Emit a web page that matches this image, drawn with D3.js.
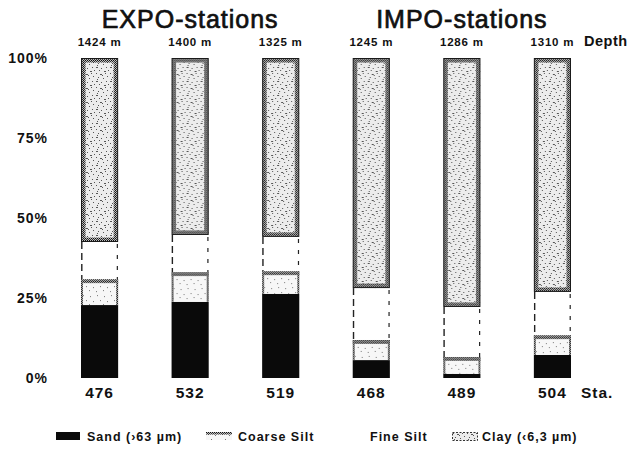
<!DOCTYPE html>
<html>
<head>
<meta charset="utf-8">
<script src="https://cdn.jsdelivr.net/npm/d3@7"></script>
<style>
  html, body { margin: 0; padding: 0; background: #fff; }
  svg text { font-family: "Liberation Sans", Arial, Helvetica, sans-serif; fill: #111; }
</style>
</head>
<body>
<svg id="chart" width="632" height="450"></svg>
<script>
// Grain-size composition of the sediment at each station (percent of sample)
const stations   = ["476", "532", "519", "468", "489", "504"];
const depths     = ["1424 m", "1400 m", "1325 m", "1245 m", "1286 m", "1310 m"];
const sand       = [22.8, 23.8, 26.3, 5.6, 1.3, 7.2];
const coarseSilt = [8.1, 9.3, 7.1, 6.3, 5.3, 6.2];
const fineSilt   = [11.6, 11.6, 10.7, 16.2, 15.6, 13.5];
const clay       = [57.5, 55.3, 55.9, 71.9, 77.8, 73.1];
const yTicks     = [0, 25, 50, 75, 100];
const groupNames = ["EXPO-stations", "IMPO-stations"];
const groupMembers = [["476", "532", "519"], ["468", "489", "504"]];
const fractionKeys   = ["sand", "coarseSilt", "fineSilt", "clay"];
const fractionLabels = ["Sand (›63 µm)", "Coarse Silt", "Fine Silt", "Clay (‹6,3 µm)"];

const rows = stations.map((s, i) => ({
  station: s, depth: depths[i],
  sand: sand[i], coarseSilt: coarseSilt[i], fineSilt: fineSilt[i], clay: clay[i]
}));

const svg = d3.select("#chart");
const FONT = "\"Liberation Sans\", Arial, Helvetica, sans-serif";

// ---- stipple patterns ----
const defs = svg.append("defs");
// dense half-tone used for the bar edges
const edge = defs.append("pattern").attr("id", "edge")
  .attr("patternUnits", "userSpaceOnUse").attr("width", 2).attr("height", 2);
edge.append("rect").attr("width", 2).attr("height", 2).attr("fill", "#bbb");
edge.append("rect").attr("width", 1).attr("height", 1).attr("fill", "#111");
edge.append("rect").attr("x", 1).attr("y", 1).attr("width", 1).attr("height", 1).attr("fill", "#333");

// sparse speckle for the bar interiors
function speckle(id, bg, dots, col) {
  const p = defs.append("pattern").attr("id", id)
    .attr("patternUnits", "userSpaceOnUse").attr("width", 14).attr("height", 14);
  p.append("rect").attr("width", 14).attr("height", 14).attr("fill", bg);
  p.selectAll("rect.d").data(dots).join("rect").attr("class", "d")
    .attr("x", d => d[0]).attr("y", d => d[1])
    .attr("width", d => d[2] || 1).attr("height", 1).attr("fill", col);
}
speckle("clayFill", "#ececec",
  [[1,1],[5,2,2],[10,1],[3,5],[8,6],[12,4],[1,9,2],[6,10],[11,9],[4,12],[9,13,2],[13,12],[7,3],[2,7]], "#555");
speckle("silt", "#f7f7f7",
  [[2,2],[9,3],[5,7],[12,8],[1,12],[8,11]], "#777");

// ---- scales ----
const x = d3.scaleBand().domain(stations).range([81, 571]).paddingInner(0.59).paddingOuter(0);
const y = d3.scaleLinear().domain([0, 100]).range([378, 58]);
const bw = x.bandwidth();

// ---- stacked bars ----
const series = d3.stack().keys(fractionKeys)(rows);
const layers = svg.append("g").selectAll("g").data(series).join("g")
  .attr("class", d => "layer " + d.key);

layers.each(function (s) {
  const g = d3.select(this);
  const segs = g.selectAll("g").data(s).join("g")
    .attr("transform", d => `translate(${x(d.data.station)},${y(d[1])})`);
  const h = d => y(d[0]) - y(d[1]);

  if (s.key === "sand") {
    segs.append("rect").attr("width", bw).attr("height", h).attr("fill", "#0a0a0a");
  } else if (s.key === "coarseSilt") {
    segs.append("rect").attr("width", bw).attr("height", h).attr("fill", "url(#silt)");
    segs.append("rect").attr("width", bw).attr("height", 4).attr("fill", "url(#edge)");
    segs.append("rect").attr("width", 2).attr("height", h).attr("fill", "url(#edge)");
    segs.append("rect").attr("x", bw - 2).attr("width", 2).attr("height", h).attr("fill", "url(#edge)");
  } else if (s.key === "fineSilt") {
    segs.append("rect").attr("width", bw).attr("height", h).attr("fill", "#fff");
    segs.append("line").attr("x1", 0.8).attr("x2", 0.8).attr("y1", 0).attr("y2", h)
      .attr("stroke", "#222").attr("stroke-width", 1.4).attr("stroke-dasharray", "7,4");
    segs.append("line").attr("x1", bw - 0.8).attr("x2", bw - 0.8).attr("y1", 2).attr("y2", h)
      .attr("stroke", "#222").attr("stroke-width", 1.2).attr("stroke-dasharray", "4,7");
  } else {
    segs.append("rect").attr("width", bw).attr("height", h).attr("fill", "url(#clayFill)");
    segs.append("rect").attr("x", 2.5).attr("y", 2.5)
      .attr("width", bw - 5).attr("height", d => h(d) - 5)
      .attr("fill", "none").attr("stroke", "url(#edge)").attr("stroke-width", 4);
    segs.append("rect").attr("x", 0.5).attr("y", 0.5)
      .attr("width", bw - 1).attr("height", d => h(d) - 1)
      .attr("fill", "none").attr("stroke", "#1a1a1a").attr("stroke-width", 1);
  }
});

// ---- axes ----
const yAxis = svg.append("g").attr("transform", "translate(50,0)")
  .call(d3.axisLeft(y).tickValues(yTicks).tickFormat(d => d + "%").tickSizeInner(0).tickSizeOuter(0).tickPadding(2));
yAxis.select(".domain").remove();
yAxis.selectAll("text").attr("font-family", FONT).attr("font-size", 14).attr("font-weight", "bold")
  .attr("letter-spacing", 1).attr("fill", "#111");

const staAxis = svg.append("g").attr("transform", "translate(0,378)")
  .call(d3.axisBottom(x).tickSizeInner(0).tickSizeOuter(0).tickPadding(9));
staAxis.select(".domain").remove();
staAxis.selectAll("text").attr("font-family", FONT).attr("font-size", 15.5).attr("font-weight", "bold")
  .attr("letter-spacing", 1).attr("fill", "#111");

const depthAxis = svg.append("g").attr("transform", "translate(0,49)")
  .call(d3.axisTop(x).tickFormat((d, i) => depths[i]).tickSizeInner(0).tickSizeOuter(0).tickPadding(3));
depthAxis.select(".domain").remove();
depthAxis.selectAll("text").attr("font-family", FONT).attr("font-size", 11.5).attr("font-weight", "bold")
  .attr("letter-spacing", 0.8).attr("fill", "#111");

svg.append("text").attr("x", 584).attr("y", 46).attr("font-size", 14.5).attr("font-weight", "bold")
  .attr("letter-spacing", 0.5).text("Depth");
svg.append("text").attr("x", 581).attr("y", 398).attr("font-size", 15.5).attr("font-weight", "bold")
  .attr("letter-spacing", 1).text("Sta.");

// ---- group titles ----
svg.selectAll("text.group").data(groupNames).join("text").attr("class", "group")
  .attr("x", (d, i) => {
    const m = groupMembers[i];
    return (x(m[0]) + x(m[m.length - 1]) + bw) / 2;
  })
  .attr("y", 28).attr("text-anchor", "middle")
  .attr("font-size", 25).attr("letter-spacing", 1)
  .attr("stroke", "#111").attr("stroke-width", 0.7).text(d => d);

// ---- legend ----
const legendX = [56, 206, null, 452];
const legendTextX = [87, 238, 370, 482];
const lg = svg.append("g").attr("transform", "translate(0,432)");
fractionKeys.forEach((k, i) => {
  if (legendX[i] !== null) {
    const sw = lg.append("g").attr("transform", `translate(${legendX[i]},0)`);
    if (k === "sand") {
      sw.append("rect").attr("width", 24).attr("height", 8).attr("fill", "#0a0a0a");
    } else if (k === "coarseSilt") {
      sw.append("rect").attr("width", 26).attr("height", 8).attr("fill", "url(#silt)");
      sw.append("rect").attr("width", 26).attr("height", 2.5).attr("fill", "url(#edge)");
    } else if (k === "clay") {
      sw.append("rect").attr("x", 0.5).attr("y", 0.5).attr("width", 25).attr("height", 8)
        .attr("fill", "url(#clayFill)").attr("stroke", "#333").attr("stroke-width", 1)
        .attr("stroke-dasharray", "2,1.5");
    }
  }
  lg.append("text").attr("x", legendTextX[i]).attr("y", 8.5).attr("font-size", 12.5)
    .attr("font-weight", "bold").attr("letter-spacing", 1).text(fractionLabels[i]);
});
</script>
</body>
</html>
